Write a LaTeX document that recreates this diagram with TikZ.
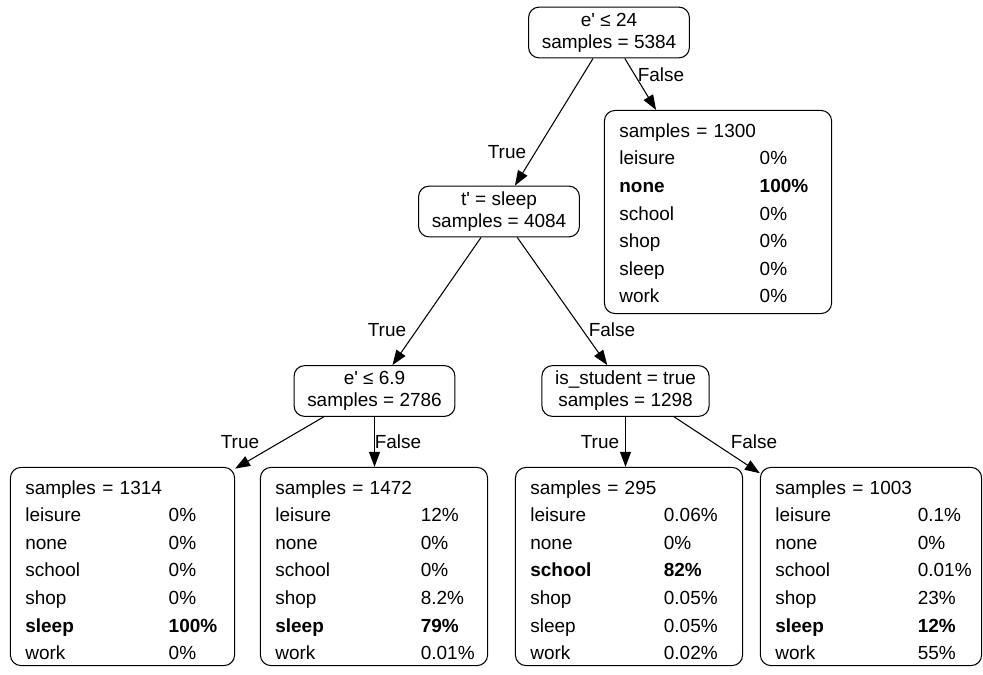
\documentclass[tikz,border=0pt]{standalone}
\usepackage{fontspec}
\setmainfont{Liberation Sans}[Ligatures=TeXOff]
\usetikzlibrary{positioning, arrows.meta}

\tikzset{
  split/.style={draw, line width=0.6pt, rounded corners=6pt, align=center,
    inner xsep=7.5pt, inner ysep=0pt, minimum height=28.9pt,
    font=\fontsize{10.8}{12.5}\selectfont},
  leaf/.style={draw, line width=0.6pt, rounded corners=6pt, align=left,
    inner xsep=8.5pt, inner ysep=0pt, text width=112.3pt, minimum height=112.8pt,
    font=\fontsize{10.8}{15.7}\selectfont},
  branch/.style={line width=0.6pt, -{Triangle[length=8.5pt, width=6.2pt]}},
  lbl/.style={inner sep=0pt, font=\fontsize{10.8}{12}\selectfont}
}

\begin{document}
\begin{tikzpicture}[x=0.02cm, y=-0.02cm]
    \useasboundingbox (0,0) rectangle (983,675);

    % split nodes
    \node[split] (root)   at (609,32.5)  {e' ≤ 24\\samples = 5384};
    \node[split] (tsleep) at (499,211.5) {t' = sleep\\samples = 4084};
    \node[split] (e69)    at (374.5,391) {e' ≤ 6.9\\samples = 2786};
    \node[split] (isstud) at (625.5,391) {is\_student = true\\samples = 1298};

    % leaves
    \node[leaf, minimum height=115.6pt] (l1300) at (718,212) {%
        \raisebox{-1.5pt}[\height][\depth]{\begin{tabular}{@{}p{79.9pt}@{}l@{}}
        \multicolumn{2}{@{}l@{}}{samples = 1300}\\
        leisure & 0\%\\
        \textbf{none} & \textbf{100\%}\\
        school & 0\%\\
        shop & 0\%\\
        sleep & 0\%\\
        work & 0\%
        \end{tabular}}};
    \node[leaf, text width=110.6pt] (l1314) at (122.5,566.5) {%
        \raisebox{-2.8pt}[\height][\depth]{\begin{tabular}{@{}p{81.6pt}@{}l@{}}
        \multicolumn{2}{@{}l@{}}{samples = 1314}\\
        leisure & 0\%\\
        none & 0\%\\
        school & 0\%\\
        shop & 0\%\\
        \textbf{sleep} & \textbf{100\%}\\
        work & 0\%
        \end{tabular}}};
    \node[leaf] (l1472) at (374,566.5) {%
        \raisebox{-2.8pt}[\height][\depth]{\begin{tabular}{@{}p{82.8pt}@{}l@{}}
        \multicolumn{2}{@{}l@{}}{samples = 1472}\\
        leisure & 12\%\\
        none & 0\%\\
        school & 0\%\\
        shop & 8.2\%\\
        \textbf{sleep} & \textbf{79\%}\\
        work & 0.01\%
        \end{tabular}}};
    \node[leaf] (l295) at (629,566.5) {%
        \raisebox{-2.8pt}[\height][\depth]{\begin{tabular}{@{}p{76pt}@{}l@{}}
        \multicolumn{2}{@{}l@{}}{samples = 295}\\
        leisure & 0.06\%\\
        none & 0\%\\
        \textbf{school} & \textbf{82\%}\\
        shop & 0.05\%\\
        sleep & 0.05\%\\
        work & 0.02\%
        \end{tabular}}};
    \node[leaf, text width=108.9pt] (l1003) at (871,566.5) {%
        \raisebox{-2.8pt}[\height][\depth]{\begin{tabular}{@{}p{81.1pt}@{}l@{}}
        \multicolumn{2}{@{}l@{}}{samples = 1003}\\
        leisure & 0.1\%\\
        none & 0\%\\
        school & 0.01\%\\
        shop & 23\%\\
        \textbf{sleep} & \textbf{12\%}\\
        work & 55\%
        \end{tabular}}};

    % branches
    \draw[branch] (root) -- (tsleep);
    \draw[branch] (root) -- (l1300);
    \draw[branch] (tsleep) -- (e69);
    \draw[branch] (tsleep) -- (isstud);
    \draw[branch] (e69.-153) -- (l1314.41);
    \draw[branch] (e69) -- (e69 |- l1472.north);
    \draw[branch] (isstud) -- (isstud |- l295.north);
    \draw[branch] (isstud.-28.5) -- (l1003.140);

    % branch labels
    \node[lbl] (t1) at (507,152) {True};
    \node[lbl] (f1) at (661,75)  {False};
    \node[lbl] (t2) at (387,330) {True};
    \node[lbl] (f2) at (612,330) {False};
    \node[lbl] (t3) at (240,442) {True};
    \node[lbl] (f3) at (398,442) {False};
    \node[lbl] (t4) at (600,442) {True};
    \node[lbl] (f4) at (754,442) {False};
\end{tikzpicture}
\end{document}
